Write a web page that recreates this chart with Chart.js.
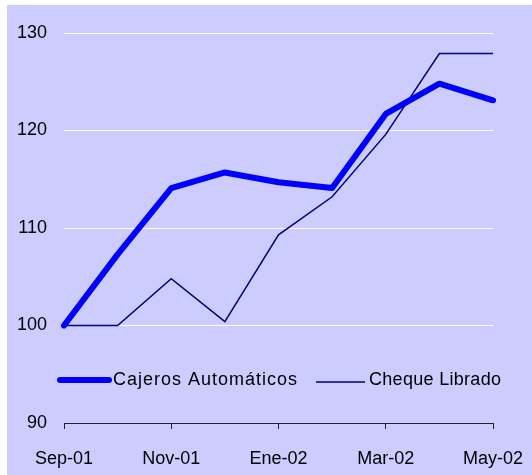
<!DOCTYPE html>
<html>
<head>
<meta charset="utf-8">
<script src="https://cdn.jsdelivr.net/npm/chart.js@4/dist/chart.umd.min.js"></script>
<style>
  html, body { margin: 0; padding: 0; background: #ffffff; }
  #wrap { position: absolute; left: 7px; top: 5px; width: 525px; height: 470px; background: #ccccff; }
</style>
</head>
<body>
<div id="wrap"><canvas id="grafico" width="525" height="470"></canvas></div>
<script>
const meses = ['Sep-01', 'Oct-01', 'Nov-01', 'Dic-01', 'Ene-02', 'Feb-02', 'Mar-02', 'Abr-02', 'May-02'];
const cajeros = [100, 107.3, 114.1, 115.7, 114.7, 114.1, 121.7, 124.8, 123.1];
const cheque = [100, 100, 104.8, 100.4, 109.3, 113.2, 119.6, 127.9, 127.9];
const yTicks = [90, 100, 110, 120, 130];

const fuente = '"Liberation Sans", Arial, sans-serif';

// leyenda dibujada dentro del area del grafico
const leyendaPlugin = {
  id: 'leyenda',
  afterDatasetsDraw(chart) {
    const ctx = chart.ctx;
    const area = chart.chartArea;
    const y = area.top + 347;
    ctx.save();
    ctx.lineCap = 'round';
    ctx.strokeStyle = '#0000ff';
    ctx.lineWidth = 6;
    ctx.beginPath();
    ctx.moveTo(area.left - 4, y);
    ctx.lineTo(area.left + 45, y);
    ctx.stroke();
    ctx.lineCap = 'butt';
    ctx.strokeStyle = '#000080';
    ctx.lineWidth = 1.5;
    ctx.beginPath();
    ctx.moveTo(area.left + 252, y + 2);
    ctx.lineTo(area.left + 301, y + 2);
    ctx.stroke();
    ctx.fillStyle = '#000000';
    ctx.font = '18px ' + fuente;
    ctx.textBaseline = 'middle';
    ctx.letterSpacing = '1px';
    ctx.fillText('Cajeros Automáticos', area.left + 49, y);
    ctx.letterSpacing = '0.3px';
    ctx.fillText('Cheque Librado', area.left + 305, y);
    ctx.restore();
  }
};

new Chart(document.getElementById('grafico'), {
  type: 'line',
  data: {
    labels: meses,
    datasets: [
      {
        label: 'Cajeros Automáticos',
        data: cajeros,
        borderColor: '#0000ff',
        borderWidth: 6,
        borderCapStyle: 'round',
        borderJoinStyle: 'round',
        pointRadius: 0,
        tension: 0
      },
      {
        label: 'Cheque Librado',
        data: cheque,
        borderColor: '#000080',
        borderWidth: 1.5,
        pointRadius: 0,
        tension: 0
      }
    ]
  },
  options: {
    responsive: false,
    animation: false,
    layout: { padding: { left: 10, right: 39, top: 28, bottom: 5 } },
    plugins: {
      legend: { display: false },
      tooltip: { enabled: false }
    },
    scales: {
      x: {
        offset: false,
        afterFit: (s) => { s.height = 47; s.paddingLeft = 0; s.paddingRight = 0; },
        border: { display: true, color: '#222222', width: 1 },
        grid: {
          drawOnChartArea: false,
          drawTicks: true,
          tickLength: 6,
          tickColor: (c) => (c.index % 2 === 0 ? '#222222' : 'rgba(0,0,0,0)')
        },
        ticks: {
          autoSkip: false,
          maxRotation: 0,
          padding: 19,
          color: '#000000',
          font: { family: fuente, size: 18 },
          callback: function (v, i) { return i % 2 === 0 ? meses[i] : ''; }
        }
      },
      y: {
        min: 90,
        max: 130,
        afterBuildTicks: (s) => { s.ticks = yTicks.map((v) => ({ value: v })); },
        afterFit: (s) => { s.width = 47; },
        border: { display: false },
        grid: {
          drawTicks: false,
          color: (c) => (c.tick && c.tick.value === 90 ? 'rgba(0,0,0,0)' : '#ffffff'),
          lineWidth: 1
        },
        ticks: {
          padding: 17,
          color: '#000000',
          font: { family: fuente, size: 18 }
        }
      }
    }
  },
  plugins: [leyendaPlugin]
});
</script>
</body>
</html>
